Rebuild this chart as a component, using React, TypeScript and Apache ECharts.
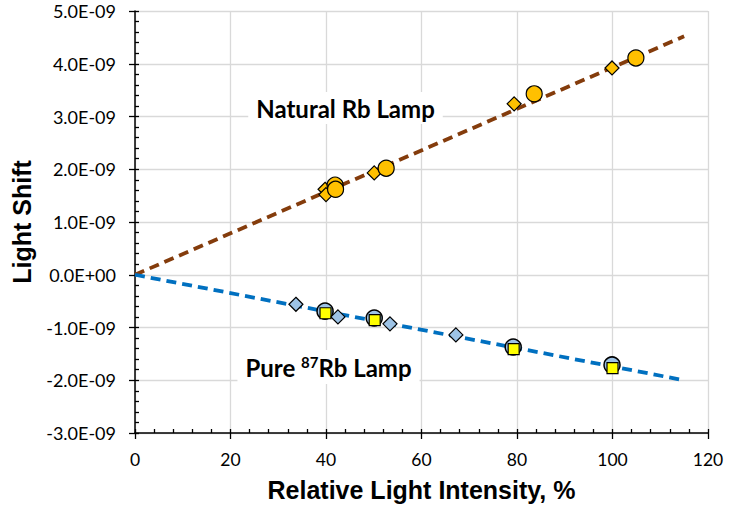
import React, { useEffect, useRef } from "react";
import * as echarts from "echarts";

// values in units of 1e-9
const naturalCircles: [number, number][] = [
  [41.9, 1.70], [42.0, 1.62], [52.6, 2.02], [83.6, 3.43], [104.9, 4.11],
];
const naturalDiamonds: [number, number][] = [
  [39.8, 1.62], [40.0, 1.52], [50.1, 1.93], [79.4, 3.24], [99.9, 3.92],
];
const naturalFit: [number, number][] = [[0, 0], [115, 4.52]];

const pureDiamonds: [number, number][] = [
  [33.7, -0.56], [42.5, -0.80], [53.4, -0.93], [67.2, -1.14],
];
const pureCircles: [number, number][] = [
  [39.8, -0.69], [50.1, -0.82], [79.2, -1.37], [99.9, -1.71],
];
const pureSquares: [number, number][] = [
  [39.9, -0.73], [50.2, -0.86], [79.3, -1.41], [100.0, -1.77],
];
const pureFit: [number, number][] = [[0, 0], [115, -2.0]];

const xTicks = [0, 20, 40, 60, 80, 100, 120];
const yTicks = [-3, -2, -1, 0, 1, 2, 3, 4, 5];

const fmtY = (v: number) => (Math.abs(v) < 1e-9 ? "0.0E+00" : v.toFixed(1) + "E-09");

export default function App() {
  const ref = useRef<HTMLDivElement>(null);
  useEffect(() => {
    const chart = echarts.init(ref.current!, undefined, { renderer: "svg" });
    const labelFont = { fontFamily: "Lato", fontSize: 17.5, color: "#000" };
    const xBase = { type: "value", min: xTicks[0], max: xTicks[xTicks.length - 1], interval: 20, position: "bottom" };
    const yBase = { type: "value", min: yTicks[0], max: yTicks[yTicks.length - 1], interval: 1, position: "left" };
    const titleFont = { fontFamily: "Liberation Sans", fontWeight: "bold", fontSize: 25, color: "#000" };
    chart.setOption({
      animation: false,
      backgroundColor: "#fff",
      grid: { left: 135, right: 32, top: 11, bottom: 75, containLabel: false },
      xAxis: [
        {
          ...xBase,
          axisLine: { show: true, onZero: false, lineStyle: { color: "#000", width: 1.5 } },
          axisTick: { show: true, inside: false, length: 6, lineStyle: { color: "#000", width: 1.3 } },
          axisLabel: { ...labelFont, margin: 17 },
          splitLine: { show: true, lineStyle: { color: "#D9D9D9", width: 1.3 } },
          name: "Relative Light Intensity, %",
          nameLocation: "middle",
          nameGap: 44,
          nameTextStyle: titleFont,
        },
        {
          ...xBase,
          axisLine: { show: false, onZero: false },
          axisTick: { show: true, inside: true, length: 4, lineStyle: { color: "#000", width: 1.3 } },
          minorTick: { show: true, splitNumber: 5, length: 4, lineStyle: { color: "#000", width: 1.3 } },
          axisLabel: { show: false },
          splitLine: { show: false },
        },
      ],
      yAxis: [
        {
          ...yBase,
          axisLine: { show: true, onZero: false, lineStyle: { color: "#000", width: 1.5 } },
          axisTick: { show: true, inside: false, length: 6, lineStyle: { color: "#000", width: 1.3 } },
          axisLabel: { ...labelFont, fontSize: 18, margin: 19, formatter: fmtY },
          splitLine: { show: true, lineStyle: { color: "#D9D9D9", width: 1.3 } },
          name: "Light Shift",
          nameLocation: "middle",
          nameGap: 101,
          nameTextStyle: titleFont,
        },
        {
          ...yBase,
          axisLine: { show: false, onZero: false },
          axisTick: { show: true, inside: true, length: 4, lineStyle: { color: "#000", width: 1.3 } },
          minorTick: { show: true, splitNumber: 5, length: 4, lineStyle: { color: "#000", width: 1.3 } },
          axisLabel: { show: false },
          splitLine: { show: false },
        },
      ],
      graphic: [
        {
          type: "text",
          x: 345.5,
          y: 108,
          z: 10,
          style: {
            text: "Natural Rb Lamp",
            fontFamily: "Lato",
            fontWeight: "bold",
            fontSize: 24,
            fill: "#000",
            align: "center",
            verticalAlign: "middle",
            backgroundColor: "#fff",
            padding: [4, 8],
          },
        },
        {
          type: "text",
          x: 328.5,
          y: 367,
          z: 10,
          style: {
            text: "{a|Pure }{s|87}{a|Rb Lamp}",
            align: "center",
            verticalAlign: "middle",
            backgroundColor: "#fff",
            padding: [4, 8],
            rich: {
              a: { fontFamily: "Lato", fontWeight: "bold", fontSize: 24, color: "#000" },
              s: { fontFamily: "Lato", fontWeight: "bold", fontSize: 15, color: "#000", verticalAlign: "top", padding: [0, 0, 11, 0] },
            },
          },
        },
      ],
      series: [
        {
          type: "line",
          data: naturalFit,
          symbol: "none",
          z: 1,
          lineStyle: { color: "#843C0C", width: 3.8, type: [10, 6] },
        },
        {
          type: "line",
          data: pureFit,
          symbol: "none",
          z: 1,
          lineStyle: { color: "#0070C0", width: 3.8, type: [10, 6] },
        },
        {
          type: "scatter",
          data: naturalDiamonds,
          symbol: "diamond",
          symbolSize: 14,
          z: 3,
          itemStyle: { color: "#FFC000", borderColor: "#000", borderWidth: 1.2, opacity: 1 },
        },
        {
          type: "scatter",
          data: naturalCircles,
          symbol: "circle",
          symbolSize: 16,
          z: 4,
          itemStyle: { color: "#FFC000", borderColor: "#000", borderWidth: 1.2, opacity: 1 },
        },
        {
          type: "scatter",
          data: pureCircles,
          symbol: "circle",
          symbolSize: 16,
          z: 3,
          itemStyle: { color: "#9DC3E6", borderColor: "#000", borderWidth: 1.5, opacity: 1 },
        },
        {
          type: "scatter",
          data: pureSquares,
          symbol: "rect",
          symbolSize: 11,
          z: 4,
          itemStyle: { color: "#FFFF00", borderColor: "#000", borderWidth: 1.2, opacity: 1 },
        },
        {
          type: "scatter",
          data: pureDiamonds,
          symbol: "diamond",
          symbolSize: 14,
          z: 5,
          itemStyle: { color: "#9DC3E6", borderColor: "#000", borderWidth: 1.2, opacity: 1 },
        },
      ],
    });
    return () => chart.dispose();
  }, []);
  return <div ref={ref} style={{ width: 740, height: 508, position: "absolute", left: 0, top: 0 }} />;
}
